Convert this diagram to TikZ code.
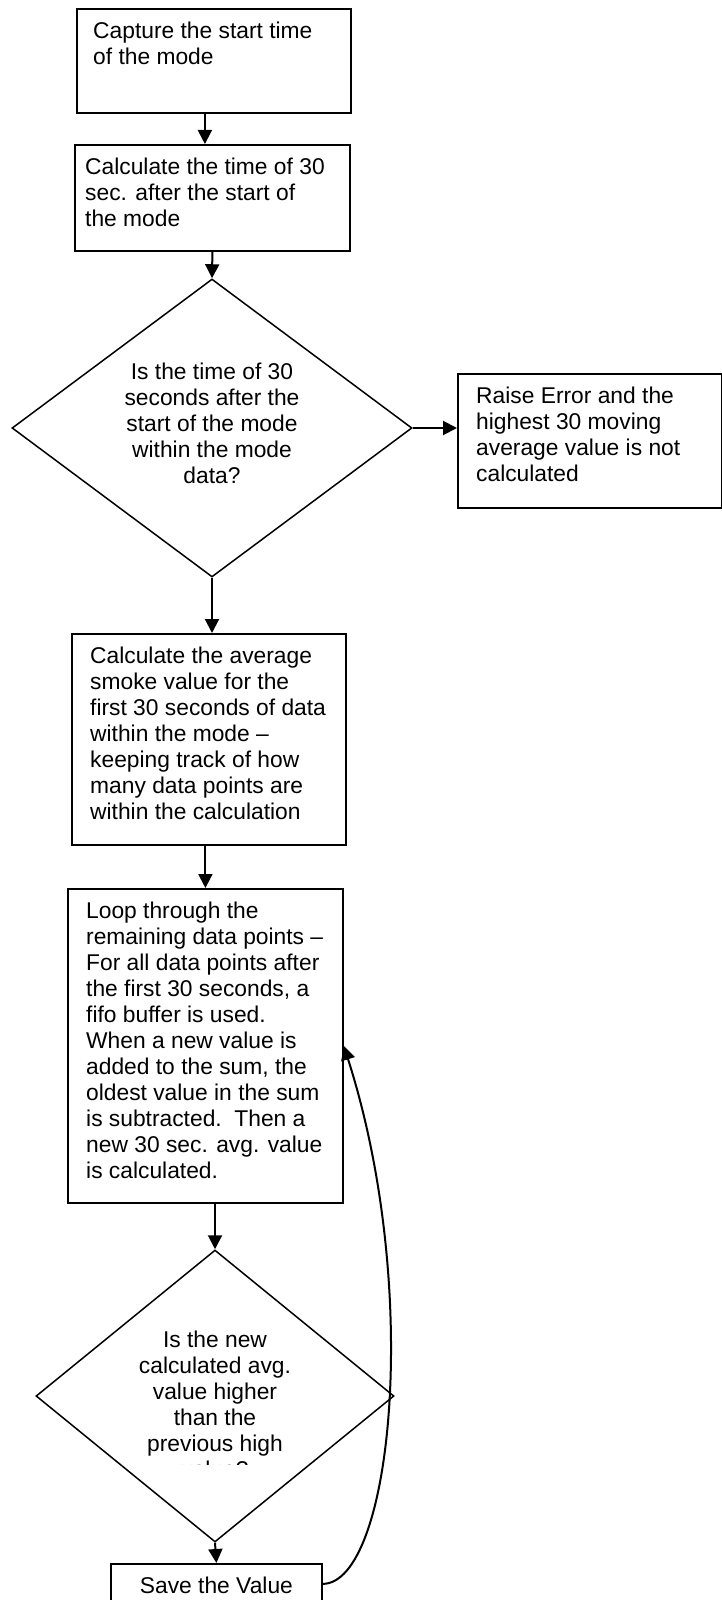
\documentclass[tikz,border=0pt]{standalone}
\usepackage{fontspec}
\setmainfont[Ligatures=NoCommon]{Liberation Sans}
\usetikzlibrary{shapes.geometric,arrows.meta,positioning}
\begin{document}
\begin{tikzpicture}[x=1pt,y=-1pt,
    box/.style={draw,line width=1.8pt,anchor=north west,inner sep=0},
    dec/.style={draw,diamond,line width=1.5pt,inner sep=0},
    txt/.style={align=left,inner sep=0,font=\fontsize{22.8}{26}\selectfont},
    mid/.style={align=center,inner sep=0,font=\fontsize{22.8}{26}\selectfont},
    flow/.style={-{Triangle[length=14pt,width=14pt]},line width=2pt}]
    \useasboundingbox (0,0) rectangle (722,1600);
    % boxes and decisions
    \node[box,minimum width=274,minimum height=104] (capture) at (76,8) {};
    \node[box,minimum width=275,minimum height=106] (offset) at (74,144) {};
    \node[dec,minimum width=400,minimum height=298] (check) at (212,428) {};
    \node[box,minimum width=264,minimum height=134] (err) at (457,373) {};
    \node[box,minimum width=274,minimum height=211] (avg) at (71,633) {};
    \node[box,minimum width=275,minimum height=314] (loop) at (67,888) {};
    \node[dec,minimum width=358,minimum height=292] (higher) at (215,1396) {};
    \node[box,minimum width=211,minimum height=40] (save) at (110,1563) {};
    % texts
    \node[txt,below right=11.8pt and 17pt of capture.north west] (capture-txt)
      {\strut Capture the start time\\of the mode};
    \node[txt,below right=11.8pt and 11pt of offset.north west] (offset-txt)
      {\strut Calculate the time of 30\\sec. after the start of\\the mode};
    \node[mid,yshift=5pt] (check-txt) at (check)
      {Is the time of 30\\seconds after the\\start of the mode\\within the mode\\data?};
    \node[txt,below right=11.8pt and 19pt of err.north west] (err-txt)
      {\strut Raise Error and the\\highest 30 moving\\average value is not\\calculated};
    \node[txt,below right=11.8pt and 19pt of avg.north west] (avg-txt)
      {\strut Calculate the average\\smoke value for the\\first 30 seconds of data\\within the mode –\\keeping track of how\\many data points are\\within the calculation};
    \node[txt,below right=11.8pt and 19pt of loop.north west] (loop-txt)
      {\strut Loop through the\\remaining data points –\\For all data points after\\the first 30 seconds, a\\fifo buffer is used.\\When a new value is\\added to the sum, the\\oldest value in the sum\\is subtracted.\ \ Then a\\new 30 sec. avg. value\\is calculated.};
    \begin{scope}
      \clip (0,1200) rectangle (722,1464);
      \node[mid,yshift=-8pt] (higher-txt) at (higher)
        {Is the new\\calculated avg.\\value higher\\than the\\previous high\\value?};
    \end{scope}
    \node[mid,anchor=base] (save-txt) at ([yshift=-30pt]save.north) {Save the Value};
    % connectors
    \draw[flow] ([xshift=-9pt]capture.south) -- ([xshift=-9pt]capture.south |- offset.north);
    \draw[flow] (offset.south) -- (check.north);
    \draw[flow] (check.east) -- (check.east -| err.west);
    \draw[flow] (check.south) -- (check.south |- avg.north);
    \draw[flow] (avg.south -| loop.north) -- (loop.north);
    \draw[flow] (loop.south -| higher.north) -- (higher.north);
    \draw[flow] (higher.south) -- (save.north);
    \draw[flow] (save.east) .. controls (392,1583) and (422,1290) .. (loop.east);
\end{tikzpicture}
\end{document}
